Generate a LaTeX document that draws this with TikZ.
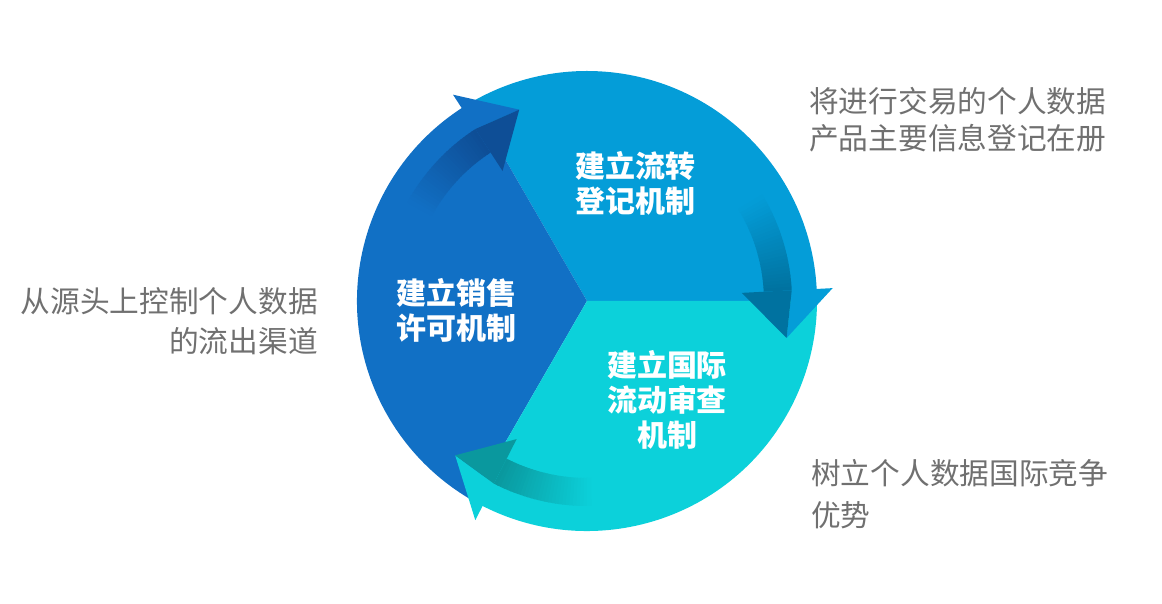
\documentclass[tikz,border=0pt]{standalone}
\usepackage{fontspec}
\newfontfamily\cjk{Noto Sans CJK SC}
\usepackage{tikz}
\usetikzlibrary{calc, positioning}
\definecolor{FlowBlue}{RGB}{4, 157, 216}
\definecolor{FlowShade}{RGB}{0, 114, 160}
\definecolor{SalesBlue}{RGB}{17, 112, 197}
\definecolor{SalesShade}{RGB}{14, 78, 150}
\definecolor{AuditCyan}{RGB}{12, 209, 218}
\definecolor{AuditShade}{RGB}{10, 152, 158}
\definecolor{NoteGray}{RGB}{112, 112, 112}

\begin{document}
\begin{tikzpicture}[x=1pt, y=1pt,
    lbl/.style={text=white, align=center, inner sep=0pt, font=\cjk\bfseries\fontsize{30}{35}\selectfont},
    note/.style={text=NoteGray, inner sep=0pt, font=\cjk\fontsize{29.7}{37}\selectfont}]
    \useasboundingbox (-587,-303) rectangle (575,301);

    % Sectores
    \fill[FlowBlue] (0,0) -- (0:230) arc[start angle=0, end angle=120, radius=230] -- cycle;
    \fill[SalesBlue] (0,0) -- (120:230) arc[start angle=120, end angle=240, radius=230] -- cycle;
    \fill[AuditCyan] (0,0) -- (240:230) arc[start angle=240, end angle=360, radius=230] -- cycle;

    % Sombras de las flechas
    \foreach \e/\base/\shade in {0/FlowBlue/FlowShade, 120/SalesBlue/SalesShade, 240/AuditCyan/AuditShade}{
        \foreach \k in {0,...,27}{
            \pgfmathsetmacro\a{\e+3+\k}
            \pgfmathsetmacro\b{\e+4.3+\k}
            \pgfmathtruncatemacro\pct{100-\k*100/28}
            \fill[\shade!\pct!\base] (\a:177) -- (\a:205) arc[start angle=\a, end angle=\b, radius=205]
                -- (\b:177) arc[start angle=\b, end angle=\a, radius=177] -- cycle;
        }
    }

    % Puntas
    \foreach \e/\base/\shade in {0/FlowBlue/FlowShade, 120/SalesBlue/SalesShade, 240/AuditCyan/AuditShade}{
        \fill[\base] ({\e+3}:205) -- ({\e+3}:246) -- ({\e-10.5}:203) -- cycle;
        \fill[\shade] ({\e+3}:155) -- ({\e+3}:205) -- ({\e-10.5}:203) -- cycle;
    }

    % Textos de los sectores
    \node[lbl] (flow) at (49,118) {建立流转\\登记机制};
    \node[lbl] (sales) at (-130,-9.5) {建立销售\\许可机制};
    \node[lbl] (audit) at (80,-98.5) {建立国际\\流动审查\\机制};

    % Notas
    \node[note, anchor=west, align=left] (flownote) at (222,181) {将进行交易的个人数据\\产品主要信息登记在册};
    \node[note, anchor=east, align=right, font=\cjk\fontsize{29.7}{40}\selectfont] (salesnote) at (-269,-20.7) {从源头上控制个人数据\\的流出渠道};
    \node[note, anchor=west, align=left, font=\cjk\fontsize{29.7}{42}\selectfont] (auditnote) at (224,-193) {树立个人数据国际竞争\\优势};
\end{tikzpicture}
\end{document}
